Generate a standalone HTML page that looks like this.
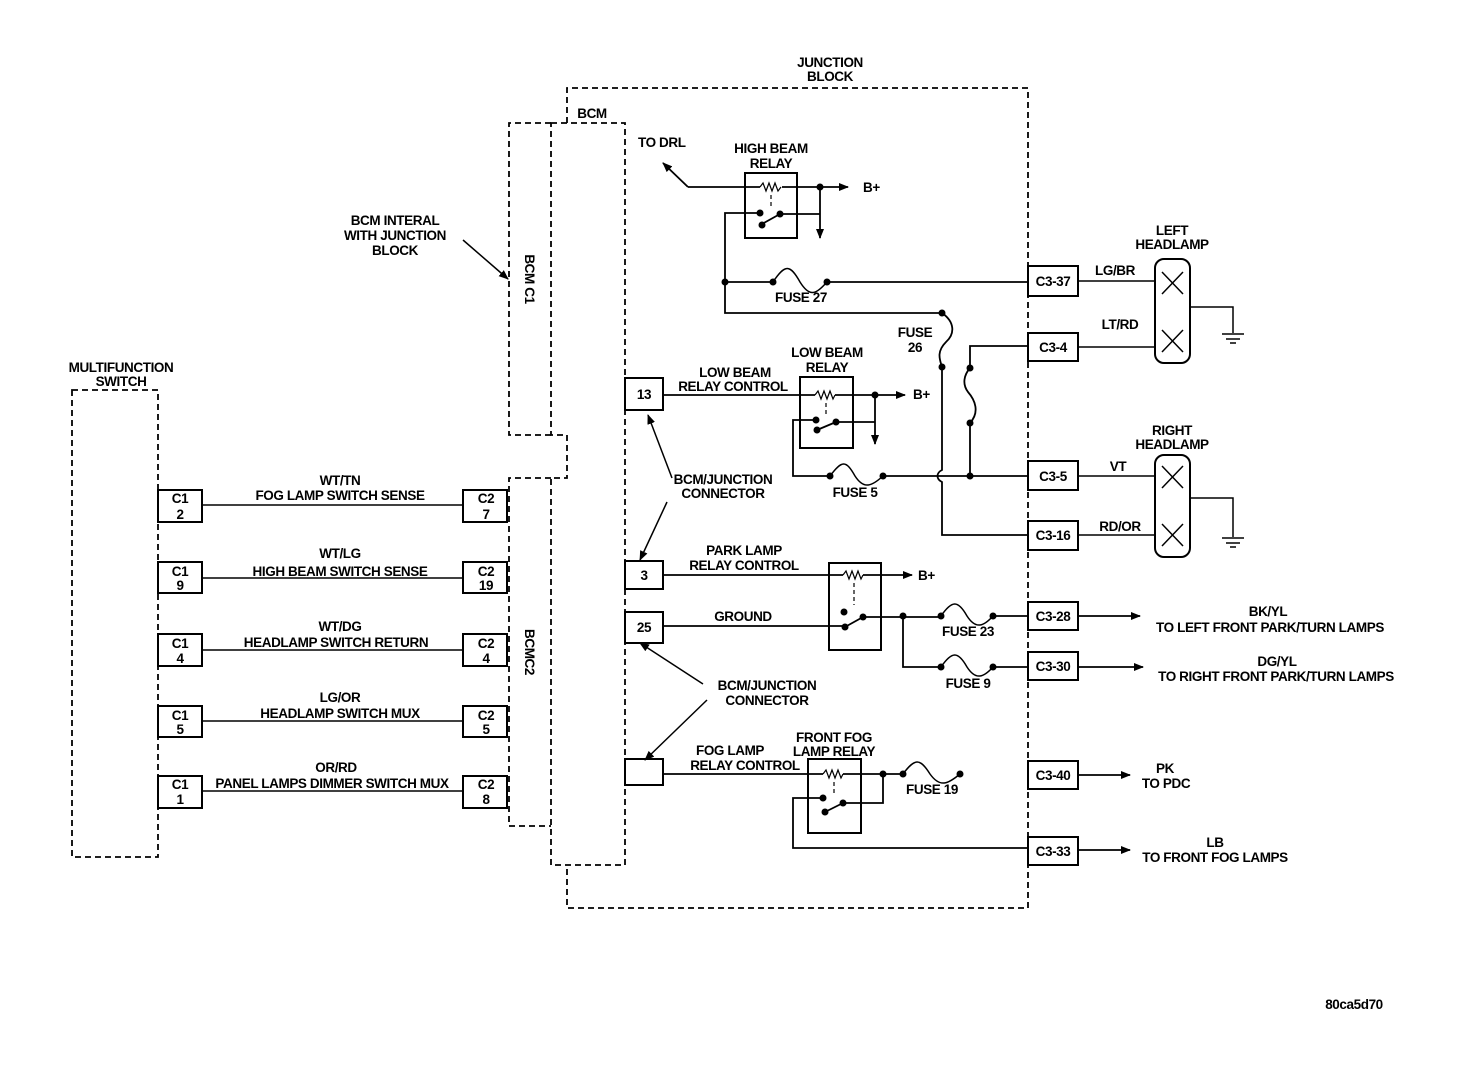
<!DOCTYPE html>
<html><head><meta charset="utf-8"><style>
html,body{margin:0;padding:0;background:#fff}
svg text{font-family:"Liberation Sans",Arial,sans-serif;font-size:13.5px;font-weight:bold;fill:#000;letter-spacing:-0.4px}
</style></head><body>
<svg width="1472" height="1078" viewBox="0 0 1472 1078" xmlns="http://www.w3.org/2000/svg">
<defs>
<marker id="ar" markerWidth="10" markerHeight="8" refX="9" refY="4" orient="auto" markerUnits="userSpaceOnUse"><path d="M0,0 L10,4 L0,8 z" fill="#000"/></marker>
</defs>
<g fill="none" stroke="#000" stroke-width="2">
<!-- dashed blocks -->
<g stroke-dasharray="6,4" stroke-width="1.8">
<path d="M567,123 V88 H1028 V908 H567 V865"/>
<rect x="72" y="390" width="86" height="467"/>
<path d="M551,435 L509,435 L509,123 L551,123"/>
<path d="M551,478 L509,478 L509,826 L551,826"/>
<path d="M551,123 H625 V865 H551 V478 H567 V435 H551 Z"/>
</g>
<!-- MFS connectors -->
<g stroke-width="2">
<rect x="158" y="490" width="44" height="32"/><rect x="463" y="490" width="44" height="32"/>
<rect x="158" y="562" width="44" height="31"/><rect x="463" y="562" width="44" height="31"/>
<rect x="158" y="634" width="44" height="32"/><rect x="463" y="634" width="44" height="32"/>
<rect x="158" y="706" width="44" height="31"/><rect x="463" y="706" width="44" height="31"/>
<rect x="158" y="776" width="44" height="32"/><rect x="463" y="776" width="44" height="32"/>
</g>
<g stroke-width="1.5">
<line x1="202" y1="505" x2="463" y2="505"/><line x1="202" y1="578" x2="463" y2="578"/>
<line x1="202" y1="650" x2="463" y2="650"/><line x1="202" y1="721" x2="463" y2="721"/>
<line x1="202" y1="791" x2="463" y2="791"/>
</g>
<!-- BCM boxes -->
<rect x="625" y="378" width="38" height="32"/>
<rect x="625" y="561" width="38" height="28"/>
<rect x="625" y="612" width="38" height="31"/>
<rect x="625" y="759" width="38" height="26"/>
<!-- C3 boxes -->
<rect x="1028" y="266" width="50" height="30"/>
<rect x="1028" y="333" width="50" height="28"/>
<rect x="1028" y="461" width="50" height="29"/>
<rect x="1028" y="521" width="50" height="29"/>
<rect x="1028" y="602" width="50" height="28"/>
<rect x="1028" y="652" width="50" height="28"/>
<rect x="1028" y="761" width="50" height="28"/>
<rect x="1028" y="837" width="50" height="28"/>
<!-- relay boxes -->
<rect x="745" y="173" width="52" height="65"/>
<rect x="800" y="377" width="53" height="71"/>
<rect x="829" y="563" width="52" height="87"/>
<rect x="808" y="759" width="53" height="74"/>
<!-- headlamps -->
<rect x="1155" y="259" width="35" height="104" rx="9"/>
<rect x="1155" y="455" width="35" height="102" rx="9"/>
<g stroke-width="1.5">
<path d="M1162,272 L1183,294 M1183,272 L1162,294 M1162,330 L1183,352 M1183,330 L1162,352"/>
<path d="M1162,466 L1183,488 M1183,466 L1162,488 M1162,524 L1183,546 M1183,524 L1162,546"/>
<path d="M1190,307 H1233 V333 M1222,334 H1244 M1226,339 H1240 M1230,343 H1236"/>
<path d="M1190,498 H1233 V537 M1222,538 H1244 M1226,543 H1240 M1230,547 H1236"/>
<path d="M1078,281 H1155 M1078,347 H1155 M1078,476 H1155 M1078,535 H1155"/>
</g>
<!-- high beam relay -->
<g stroke-width="1.8">
<path d="M688,187 L760,187 M782,187 L820,187"/>
<path d="M688,187 L663,163" marker-end="url(#ar)"/>
<path d="M820,187 L848,187" marker-end="url(#ar)"/>
<path d="M820,187 L820,238" marker-end="url(#ar)"/>
<path d="M760,187 l3,-4 l3,8 l3,-8 l3,8 l3,-8 l3,8 l3,-4" stroke-width="1.2"/>
<path d="M771,195 V208" stroke-dasharray="4,3" stroke-width="1.2"/>
<path d="M780,214 H820 M762,224 L780,214 M760,213 H725 V313 H942"/>
<path d="M725,282 H773 M827,282 H1028"/>
<path d="M773,282 C785,264 790,264 800,282 C810,298 816,294 827,282" stroke-width="1.5"/>
<!-- fuse 26 -->
<path d="M942,313 C955,322 955,334 946,342 C936,352 940,360 942,367 V470 C936,473 936,479 942,482 V535 H1028"/>
<!-- low beam relay -->
<path d="M663,395 H815 M835,395 H875"/>
<path d="M815,395 l3,-4 l3,8 l3,-8 l3,8 l3,-8 l3,8 l2,-4" stroke-width="1.2"/>
<path d="M875,395 L905,395" marker-end="url(#ar)"/>
<path d="M875,395 L875,444" marker-end="url(#ar)"/>
<path d="M826,403 V414" stroke-dasharray="4,3" stroke-width="1.2"/>
<path d="M836,422 H875 M817,430 L836,422 M816,420 H793 V476 H830 M883,476 H1028"/>
<path d="M830,476 C842,460 846,460 855,476 C864,490 872,486 883,476" stroke-width="1.5"/>
<path d="M970,476 V423 C980,412 975,400 968,392 C962,384 964,375 970,368 V346 H1028"/>
<!-- park relay -->
<path d="M663,575 H843 M863,575 H880"/>
<path d="M843,575 l3,-4 l3,8 l3,-8 l3,8 l3,-8 l3,8 l2,-4" stroke-width="1.2"/>
<path d="M880,575 L912,575" marker-end="url(#ar)"/>
<path d="M854,583 V605" stroke-dasharray="4,3" stroke-width="1.2"/>
<path d="M663,626 H845 M845,627 L863,617 M863,617 H941 M993,616 H1028 M903,616 V667 H941 M993,667 H1028"/>
<path d="M941,616 C952,600 958,600 967,616 C976,630 984,626 993,616" stroke-width="1.5"/>
<path d="M941,667 C952,651 958,651 967,667 C976,681 984,677 993,667" stroke-width="1.5"/>
<path d="M1078,616 L1140,616" marker-end="url(#ar)"/>
<path d="M1078,667 L1143,667" marker-end="url(#ar)"/>
<!-- fog relay -->
<path d="M663,774 H823 M843,774 H903"/>
<path d="M823,774 l3,-4 l3,8 l3,-8 l3,8 l3,-8 l3,8 l2,-4" stroke-width="1.2"/>
<path d="M834,782 V795" stroke-dasharray="4,3" stroke-width="1.2"/>
<path d="M903,774 C915,758 920,758 930,774 C940,788 948,784 960,774" stroke-width="1.5"/>
<path d="M883,774 V803 H843 M825,812 L843,803 M823,798 H793 V848 H1028"/>
<path d="M1078,775 L1130,775" marker-end="url(#ar)"/>
<path d="M1078,850 L1130,850" marker-end="url(#ar)"/>
<!-- callout arrows -->
<g stroke-width="1.5">
<path d="M672,478 L648,415" marker-end="url(#ar)"/>
<path d="M667,502 L640,560" marker-end="url(#ar)"/>
<path d="M703,684 L640,643" marker-end="url(#ar)"/>
<path d="M707,700 L645,760" marker-end="url(#ar)"/>
<path d="M463,240 L508,279" marker-end="url(#ar)"/>
</g>
</g>
</g>
<!-- dots -->
<g fill="#000">
<circle cx="820" cy="187" r="3.5"/><circle cx="760" cy="213" r="3.5"/><circle cx="780" cy="214" r="3.5"/><circle cx="762" cy="225" r="3.5"/>
<circle cx="725" cy="282" r="3.5"/><circle cx="773" cy="282" r="3.5"/><circle cx="827" cy="282" r="3.5"/>
<circle cx="942" cy="313" r="3.5"/><circle cx="942" cy="367" r="3.5"/>
<circle cx="875" cy="395" r="3.5"/><circle cx="816" cy="420" r="3.5"/><circle cx="836" cy="422" r="3.5"/><circle cx="817" cy="430" r="3.5"/>
<circle cx="830" cy="476" r="3.5"/><circle cx="883" cy="476" r="3.5"/><circle cx="970" cy="476" r="3.5"/>
<circle cx="970" cy="423" r="3.5"/><circle cx="970" cy="368" r="3.5"/>
<circle cx="844" cy="612" r="3.5"/><circle cx="863" cy="617" r="3.5"/><circle cx="845" cy="627" r="3.5"/>
<circle cx="903" cy="616" r="3.5"/><circle cx="941" cy="616" r="3.5"/><circle cx="993" cy="616" r="3.5"/>
<circle cx="941" cy="667" r="3.5"/><circle cx="993" cy="667" r="3.5"/>
<circle cx="883" cy="774" r="3.5"/><circle cx="903" cy="774" r="3.5"/><circle cx="960" cy="774" r="3.5"/>
<circle cx="823" cy="798" r="3.5"/><circle cx="843" cy="803" r="3.5"/><circle cx="825" cy="812" r="3.5"/>
</g>
<!-- text -->
<g text-anchor="middle">
<text x="830" y="67">JUNCTION</text><text x="830" y="81">BLOCK</text>
<text x="592" y="118">BCM</text>
<text x="121" y="372">MULTIFUNCTION</text><text x="121" y="386">SWITCH</text>
<text x="395" y="225">BCM INTERAL</text><text x="395" y="240">WITH JUNCTION</text><text x="395" y="255">BLOCK</text>
<text x="771" y="153">HIGH BEAM</text><text x="771" y="168">RELAY</text>
<text x="827" y="357">LOW BEAM</text><text x="827" y="372">RELAY</text>
<text x="834" y="742">FRONT FOG</text><text x="834" y="756">LAMP RELAY</text>
<text x="1172" y="235">LEFT</text><text x="1172" y="249">HEADLAMP</text>
<text x="1172" y="435">RIGHT</text><text x="1172" y="449">HEADLAMP</text>
<text x="915" y="337">FUSE</text><text x="915" y="352">26</text>
<text x="340" y="485">WT/TN</text><text x="340" y="500">FOG LAMP SWITCH SENSE</text>
<text x="340" y="558">WT/LG</text><text x="340" y="576">HIGH BEAM SWITCH SENSE</text>
<text x="340" y="631">WT/DG</text><text x="336" y="647">HEADLAMP SWITCH RETURN</text>
<text x="340" y="702">LG/OR</text><text x="340" y="718">HEADLAMP SWITCH MUX</text>
<text x="336" y="772">OR/RD</text><text x="332" y="788">PANEL LAMPS DIMMER SWITCH MUX</text>
<text x="180" y="503">C1</text><text x="180" y="519">2</text>
<text x="180" y="576">C1</text><text x="180" y="590">9</text>
<text x="180" y="648">C1</text><text x="180" y="663">4</text>
<text x="180" y="720">C1</text><text x="180" y="734">5</text>
<text x="180" y="789">C1</text><text x="180" y="804">1</text>
<text x="486" y="503">C2</text><text x="486" y="519">7</text>
<text x="486" y="576">C2</text><text x="486" y="590">19</text>
<text x="486" y="648">C2</text><text x="486" y="663">4</text>
<text x="486" y="720">C2</text><text x="486" y="734">5</text>
<text x="486" y="789">C2</text><text x="486" y="804">8</text>
<text x="644" y="399">13</text><text x="644" y="580">3</text><text x="644" y="632">25</text>
<text x="735" y="377">LOW BEAM</text><text x="733" y="391">RELAY CONTROL</text>
<text x="723" y="484">BCM/JUNCTION</text><text x="723" y="498">CONNECTOR</text>
<text x="744" y="555">PARK LAMP</text><text x="744" y="570">RELAY CONTROL</text>
<text x="743" y="621">GROUND</text>
<text x="767" y="690">BCM/JUNCTION</text><text x="767" y="705">CONNECTOR</text>
<text x="730" y="755">FOG LAMP</text><text x="745" y="770">RELAY CONTROL</text>
<text x="801" y="302">FUSE 27</text><text x="855" y="497">FUSE 5</text>
<text x="968" y="636">FUSE 23</text><text x="968" y="688">FUSE 9</text><text x="932" y="794">FUSE 19</text>
<text x="1053" y="286">C3-37</text><text x="1053" y="352">C3-4</text><text x="1053" y="481">C3-5</text>
<text x="1053" y="540">C3-16</text><text x="1053" y="621">C3-28</text><text x="1053" y="671">C3-30</text>
<text x="1053" y="780">C3-40</text><text x="1053" y="856">C3-33</text>
<text x="1115" y="275">LG/BR</text><text x="1120" y="329">LT/RD</text>
<text x="1118" y="471">VT</text><text x="1120" y="531">RD/OR</text>
<text x="1268" y="616">BK/YL</text><text x="1270" y="632">TO LEFT FRONT PARK/TURN LAMPS</text>
<text x="1277" y="666">DG/YL</text><text x="1276" y="681">TO RIGHT FRONT PARK/TURN LAMPS</text>
<text x="1165" y="773">PK</text><text x="1166" y="788">TO PDC</text>
<text x="1215" y="847">LB</text><text x="1215" y="862">TO FRONT FOG LAMPS</text>
<text x="1354" y="1009">80ca5d70</text>
</g>
<text x="638" y="147">TO DRL</text>
<text x="863" y="192">B+</text><text x="913" y="399">B+</text><text x="918" y="580">B+</text>
<text transform="translate(525,279) rotate(90)" text-anchor="middle">BCM C1</text>
<text transform="translate(525,652) rotate(90)" text-anchor="middle">BCMC2</text>
</svg>
</body></html>
